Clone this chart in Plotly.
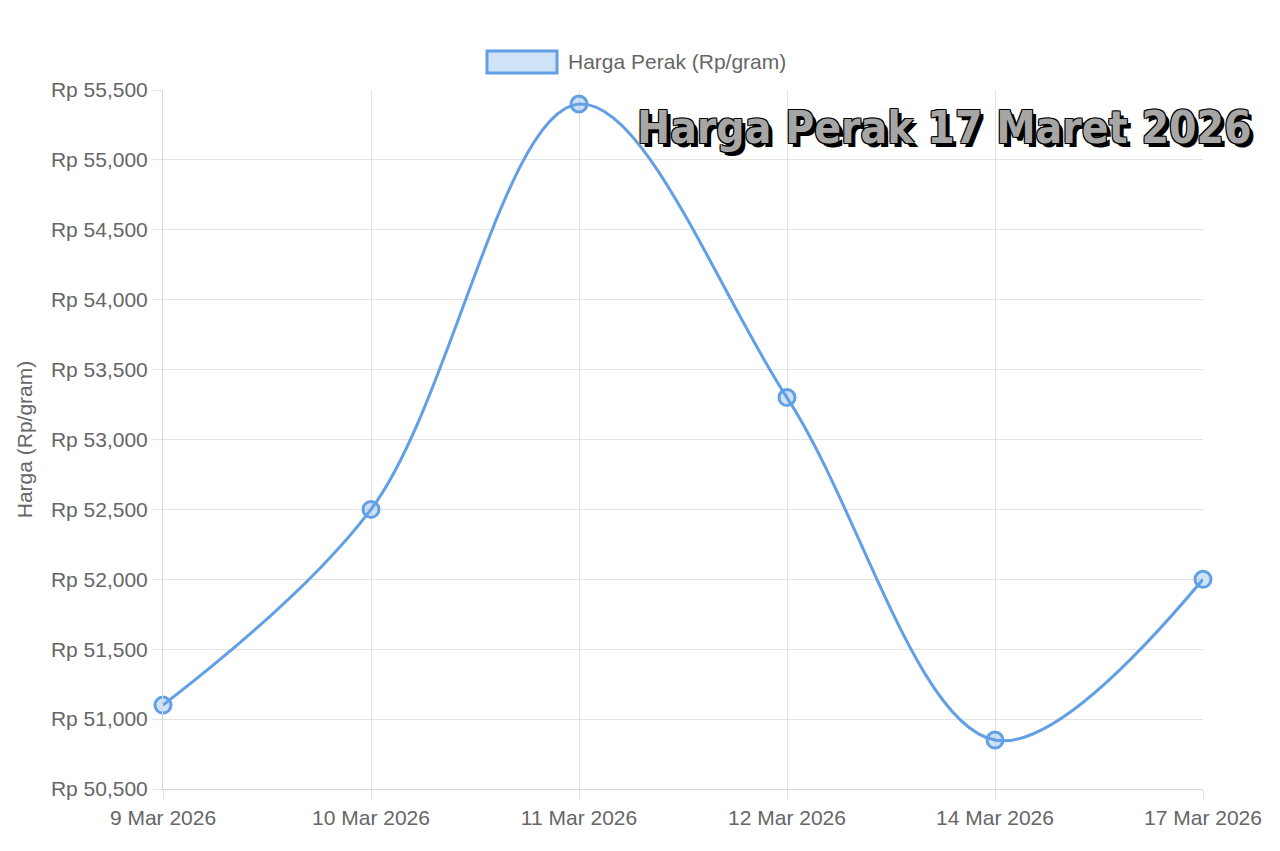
import plotly.graph_objects as go

# data
dates = ["9 Mar 2026", "10 Mar 2026", "11 Mar 2026", "12 Mar 2026", "14 Mar 2026", "17 Mar 2026"]
harga = [51100, 52500, 55400, 53300, 50850, 52000]
series_name = "Harga Perak (Rp/gram)"
title_text = "Harga Perak 17 Maret 2026"

line_blue = "#62a0e6"
fill_blue = "rgba(98,160,230,0.3)"
grid = "#e3e3e3"
text_gray = "#666666"

# page is shifted by the browser's 8px body margin, so margins are adjusted
ML, MR, MT, MB = 155, 85, 82, 70
PW, PH = 1280 - ML - MR, 851 - MT - MB


def px(x):
    return (x - 8 - ML) / PW


def py(y):
    return (851 - MB - (y - 8)) / PH


fig = go.Figure()
fig.add_trace(go.Scatter(
    x=dates, y=harga, name=series_name, mode="lines+markers",
    line=dict(color=line_blue, width=3, shape="spline", smoothing=1.0),
    marker=dict(size=16, color=fill_blue, line=dict(color=line_blue, width=3)),
    showlegend=False, cliponaxis=False,
))

# chart.js-like legend box
fig.add_shape(type="rect", xref="paper", yref="paper",
              x0=px(487), x1=px(557), y0=py(73), y1=py(51),
              line=dict(color=line_blue, width=3), fillcolor=fill_blue)
fig.add_annotation(text=series_name, xref="paper", yref="paper",
                   x=px(566), y=py(62), xanchor="left", yanchor="middle",
                   showarrow=False, font=dict(size=21, color=text_gray, family="Liberation Sans"))

# overlay title
fig.add_annotation(text="<b>" + title_text + "</b>", xref="paper", yref="paper",
                   x=px(944), y=py(127), xanchor="center", yanchor="middle",
                   showarrow=False,
                   font=dict(size=44, color="#a6a6a6", family="DejaVu Sans Condensed",
                             shadow="4px 4px 0 #000, -1px -1px 0 #000, 1px -1px 0 #000, -1px 1px 0 #000, 1px 1px 0 #000"))

fig.update_layout(
    width=1280, height=851,
    margin=dict(l=ML, r=MR, t=MT, b=MB, autoexpand=False),
    plot_bgcolor="white", paper_bgcolor="white",
    font=dict(family="Liberation Sans", size=21, color=text_gray),
)
fig.update_xaxes(
    type="category", range=[0, len(dates) - 1],
    showgrid=True, gridcolor=grid, gridwidth=1,
    showline=True, linecolor="#d6d6d6",
    ticks="outside", ticklen=10, tickcolor=grid,
    tickfont=dict(size=21, color=text_gray),
)
fig.update_yaxes(
    range=[50500, 55500], dtick=500, tick0=50500,
    tickprefix="Rp ", tickformat=",",
    showgrid=True, gridcolor=grid, gridwidth=1,
    showline=True, linecolor="#d6d6d6", zeroline=False,
    ticks="outside", ticklen=10, tickcolor=grid,
    tickfont=dict(size=21, color=text_gray),
    title=dict(text="Harga (Rp/gram)", font=dict(size=21, color=text_gray), standoff=12),
)

fig.write_html("out.html")
